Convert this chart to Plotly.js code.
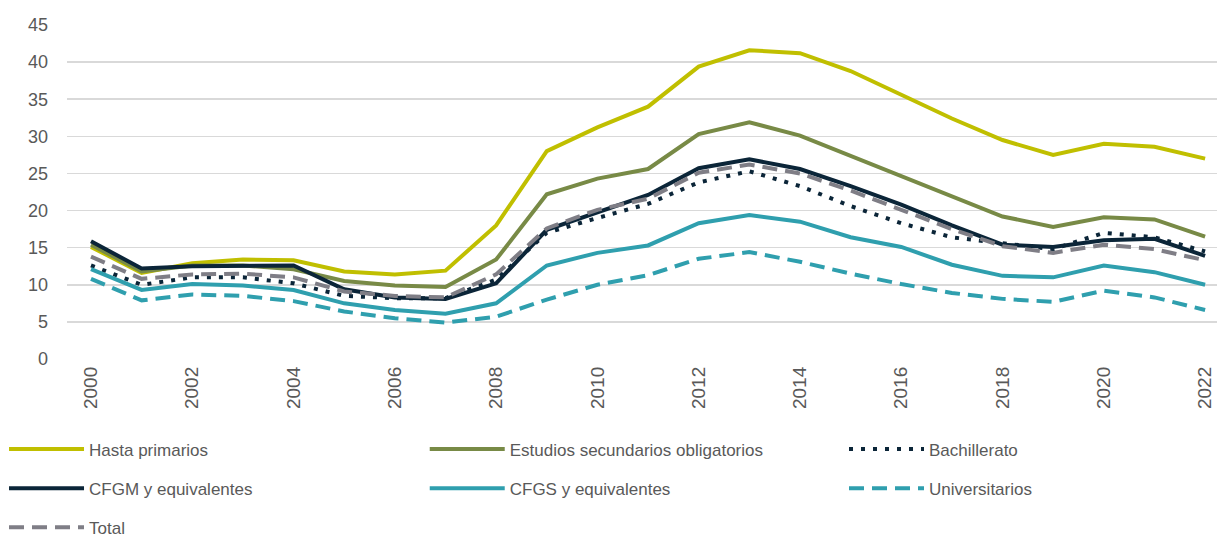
<!DOCTYPE html>
<html>
<head>
<meta charset="utf-8">
<script src="https://cdn.plot.ly/plotly-3.0.1.min.js"></script>
<style>html,body{margin:0;padding:0;background:#fff;}#chart{width:1217px;height:536px;}</style>
</head>
<body>
<div id="chart"></div>
<script>
const years = [2000,2001,2002,2003,2004,2005,2006,2007,2008,2009,2010,2011,2012,2013,2014,2015,2016,2017,2018,2019,2020,2021,2022];
const hastaPrimarios = [15.1,11.6,12.9,13.4,13.3,11.8,11.4,11.9,18.0,28.0,31.2,34.0,39.4,41.6,41.2,38.8,35.6,32.4,29.5,27.5,29.0,28.6,27.0];
const secundariosOblig = [15.4,11.8,12.6,12.6,12.1,10.5,9.9,9.7,13.4,22.2,24.3,25.6,30.3,31.9,30.1,27.4,24.6,21.9,19.2,17.8,19.1,18.8,16.5];
const bachillerato = [12.6,10.0,11.0,11.0,10.2,8.5,8.2,8.2,10.7,17.0,19.0,20.9,23.8,25.3,23.3,20.6,18.3,16.4,15.6,14.8,17.0,16.4,14.5];
const cfgm = [15.85,12.2,12.5,12.6,12.6,9.4,8.3,8.1,10.2,17.4,19.7,22.1,25.7,26.9,25.6,23.3,20.8,18.0,15.4,15.1,16.0,16.2,13.9];
const cfgs = [12.1,9.3,10.1,9.9,9.3,7.5,6.6,6.1,7.5,12.6,14.3,15.3,18.3,19.4,18.5,16.4,15.1,12.7,11.2,11.0,12.6,11.7,10.0];
const universitarios = [10.8,7.9,8.7,8.5,7.8,6.4,5.5,4.9,5.7,8.0,10.0,11.3,13.5,14.4,13.1,11.5,10.1,8.9,8.1,7.7,9.2,8.3,6.6];
const total = [13.8,10.8,11.4,11.5,11.0,9.1,8.5,8.3,11.4,17.6,20.1,21.6,25.1,26.2,25.0,22.7,20.1,17.5,15.2,14.3,15.4,14.8,13.3];

const names = ["Hasta primarios","Estudios secundarios obligatorios","Bachillerato","CFGM y equivalentes","CFGS y equivalentes","Universitarios","Total"];
const tickYears = [2000,2002,2004,2006,2008,2010,2012,2014,2016,2018,2020,2022];

const FONT = "Liberation Sans, Arial, sans-serif";
const TXT = "#595959";

function tr(y, name, color, dash, legend, rank){
  return {x: years, y: y, name: name, type: "scatter", mode: "lines",
    line: {color: color, width: 4, dash: dash}, legend: legend,
    legendgroup: "g" + rank, legendrank: rank, hoverinfo: "skip"};
}
const data = [
  tr(hastaPrimarios, names[0], "#c0bf00", "solid", "legend", 1),
  tr(secundariosOblig, names[1], "#788a46", "solid", "legend2", 2),
  tr(bachillerato, names[2], "#0b2538", "4px,8px", "legend3", 3),
  tr(cfgm, names[3], "#0b2538", "solid", "legend", 4),
  tr(cfgs, names[4], "#2f9fae", "solid", "legend2", 5),
  tr(universitarios, names[5], "#2f9fae", "15px,8px", "legend3", 6),
  tr(total, names[6], "#7f7e86", "15px,8px", "legend", 7)
];

function leg(x){
  return {orientation: "v", xref: "container", yref: "container", x: x, y: 0.195,
    xanchor: "left", yanchor: "top", tracegroupgap: 14,
    itemwidth: 75, font: {family: FONT, size: 17, color: TXT}, bgcolor: "rgba(0,0,0,0)",
    traceorder: "grouped", itemclick: false};
}

const layout = {
  width: 1217, height: 536,
  margin: {l: 67, r: 0, t: 25, b: 177, autoexpand: false},
  paper_bgcolor: "#fff", plot_bgcolor: "#fff",
  showlegend: true,
  font: {family: FONT, size: 18, color: TXT},
  xaxis: {range: [1999.526, 2022.235], tickmode: "array", tickvals: tickYears,
    ticktext: tickYears.map(String), tickangle: -90, showgrid: false, zeroline: false,
    showline: false, ticks: "", ticklabelstandoff: 3, tickfont: {family: FONT, size: 19, color: TXT}, fixedrange: true},
  yaxis: {range: [0, 45], tickmode: "array", tickvals: [0,5,10,15,20,25,30,35,40,45],
    showgrid: true, gridcolor: "#d9d9d9", gridwidth: 1.5, zeroline: false, showline: false,
    ticks: "", ticklabelstandoff: 18, tickfont: {family: FONT, size: 18, color: TXT}, fixedrange: true},
  legend: leg(0.0033),
  legend2: leg(0.349),
  legend3: leg(0.6935)
};

Plotly.newPlot("chart", data, layout, {displayModeBar: false, staticPlot: true});
</script>
</body>
</html>
